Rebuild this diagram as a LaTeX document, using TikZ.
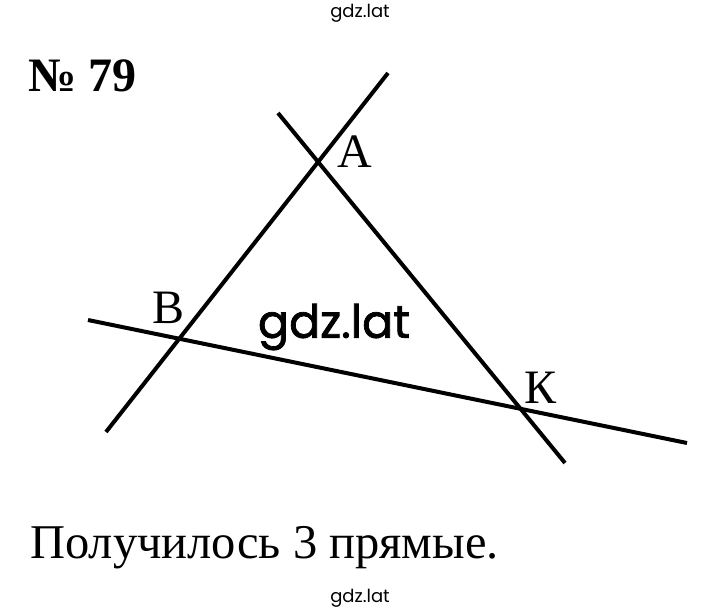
\documentclass[tikz,border=0pt]{standalone}
\usepackage{fontspec}
\setmainfont{Liberation Serif}
\newfontfamily\wmfont{Poppins}
\newfontfamily\wmbold[FakeBold=1.6]{Poppins}
\begin{document}
\begin{tikzpicture}[x=1pt,y=-1pt,
  ln/.style={line width=4pt},
  lbl/.style={font=\fontsize{48}{50}\selectfont, inner sep=0pt},
  wm/.style={font=\wmfont\fontsize{18}{20}\selectfont, inner sep=0pt}]
\useasboundingbox (0,0) rectangle (720,613);
\coordinate (a1) at (106,432);
\coordinate (a2) at (388,73);
\coordinate (b1) at (278,113);
\coordinate (b2) at (565,463);
\coordinate (c1) at (88,320);
\coordinate (c2) at (687,443);
\draw[ln] (a1) -- (a2);
\draw[ln] (b1) -- (b2);
\draw[ln] (c1) -- (c2);
\node[lbl] (A) at (355,152) {A};
\node[lbl] (B) at (169,308) {B};
\node[lbl] (K) at (541,388) {К};
\node[inner sep=0pt, font=\bfseries\fontsize{48}{50}\selectfont, anchor=west] (num) at (28,76) {№ 79};
\node[inner sep=0pt, font=\fontsize{48.5}{50}\selectfont, anchor=west] (txt) at (30,548) {Получилось 3 прямые.};
\node[wm] (w1) at (360,13) {gdz.lat};
\node[wm] (w2) at (360,598) {gdz.lat};
\node[inner sep=0pt, font=\wmbold\fontsize{46}{48}\selectfont] (w3) at (334,327) {gdz.lat};
\end{tikzpicture}
\end{document}
